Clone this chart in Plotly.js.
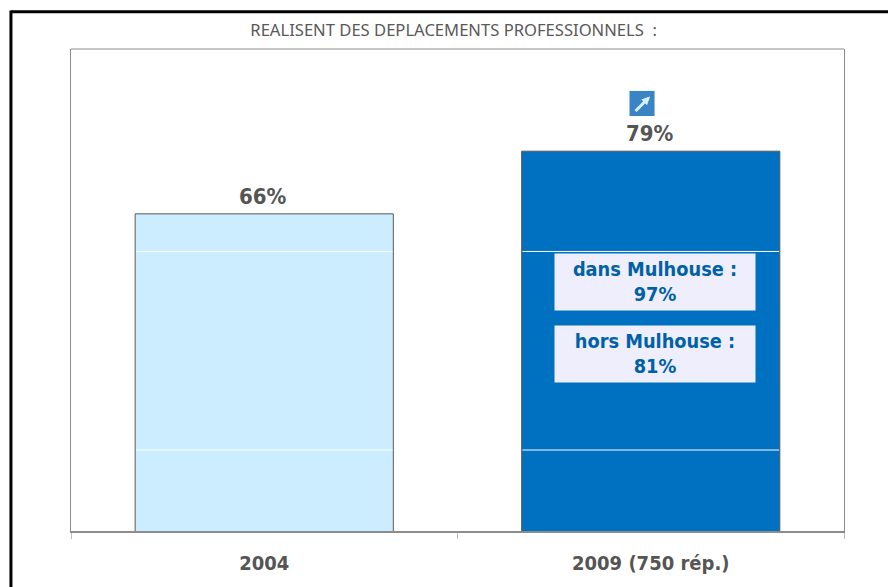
<!DOCTYPE html>
<html>
<head>
<meta charset="utf-8">
<script src="https://cdn.plot.ly/plotly-3.0.1.min.js"></script>
<style>html,body{margin:0;padding:0;background:#fff;overflow:hidden}</style>
</head>
<body>
<div id="chart" style="width:888px;height:587px"></div>
<script>
const categories = ['2004', '2009 (750 rép.)'];
const values = [66, 79];
const valueLabels = ['66%', '79%'];
const barFills = ['#CCECFF', '#0070C0'];
const bandLevels = [17, 58.2];
const chartTitle = 'REALISENT DES DEPLACEMENTS PROFESSIONNELS  :';
const calloutTexts = ['dans Mulhouse :<br>97%', 'hors Mulhouse :<br>81%'];
const calloutLevels = [51.8, 36.9];

const boldFont = 'DejaVu Sans Condensed, Noto Sans, sans-serif';
const barGap = 0.332;
const halfBar = (1 - barGap) / 2;
const grey = '#555555';
const axisGrey = '#8C8C8C';

const shapes = [];
categories.forEach((c, i) => {
  bandLevels.forEach(v => {
    shapes.push({type:'line', xref:'paper', yref:'y', x0:(i+0.5-halfBar+0.002)/2, x1:(i+0.5+halfBar-0.002)/2, y0:v, y1:v,
      line:{color:'#FFFFFF', width:1}, layer:'above'});
  });
});
shapes.push({type:'line', xref:'paper', yref:'paper', x0:0, x1:1, y0:1, y1:1, line:{color:axisGrey, width:1}});
shapes.push({type:'line', xref:'paper', yref:'paper', x0:-0.0777, x1:1.06, y0:1.0775, y1:1.0775, line:{color:'#000', width:3}});
shapes.push({type:'line', xref:'paper', yref:'paper', x0:-0.0777, x1:-0.0777, y0:1.08, y1:-0.12, line:{color:'#000', width:3}});
shapes.push({type:'rect', xref:'paper', yref:'y', x0:0.7225, x1:0.7549, y0:86.3, y1:91.5,
  line:{width:0}, fillcolor:'#3A83C4'});

const annotations = [];
const labelCentres = [0.2487, 0.7490];
categories.forEach((c, i) => {
  annotations.push({x:labelCentres[i], y:values[i], xref:'paper', yref:'y', text:'<b>'+valueLabels[i]+'</b>', showarrow:false,
    xanchor:'center', yanchor:'bottom', yshift:3, font:{family:boldFont, size:22, color:grey}});
});
calloutTexts.forEach((t, i) => {
  annotations.push({x:0.7555, y:calloutLevels[i], xref:'paper', yref:'y', text:'<b>'+t+'</b>', showarrow:false,
    xanchor:'center', yanchor:'middle', width:200, height:56, align:'center', valign:'middle', bgcolor:'#EEEEFC', borderpad:0,
    font:{family:boldFont, size:19.8, color:'#0061A8'}});
});
annotations.push({x:0.7387, y:89.1, xref:'paper', yref:'y', ax:-16, ay:16, text:'', showarrow:true,
  arrowhead:2, arrowsize:0.55, arrowwidth:3, arrowcolor:'#D8F0FC', standoff:0, startstandoff:0, yshift:6, xshift:8});

Plotly.newPlot('chart', [{
  type:'bar', x:categories, y:values, marker:{color:barFills, line:{color:'#5A5A5A', width:1}},
  hoverinfo:'skip'
}], {
  width:888, height:587, showlegend:false, paper_bgcolor:'#fff', plot_bgcolor:'#fff',
  margin:{l:71, r:44, t:49, b:56, pad:0}, bargap:barGap,
  title:{text:chartTitle, x:0.495, xanchor:'center', xref:'paper', y:0.949, yanchor:'middle',
    font:{family:'Noto Sans, Open Sans, sans-serif', size:16.6, color:'#595959'}},
  xaxis:{type:'category', categoryorder:'array', categoryarray:categories, range:[-0.5,1.5], autorange:false,
    showgrid:false, zeroline:false, showline:true, linecolor:axisGrey, linewidth:2,
    ticks:'outside', tickson:'boundaries', ticklen:6, tickcolor:'#BDBDBD', tickwidth:1, ticklabelstandoff:13, tickangle:0,
    tickfont:{family:boldFont, size:20, color:grey, weight:'bold'}},
  yaxis:{range:[0.2,100.2], showgrid:false, zeroline:false, showline:true, mirror:true, linecolor:axisGrey, linewidth:1,
    ticks:'', showticklabels:false},
  shapes, annotations
}, {displayModeBar:false, staticPlot:true});
</script>
</body>
</html>
